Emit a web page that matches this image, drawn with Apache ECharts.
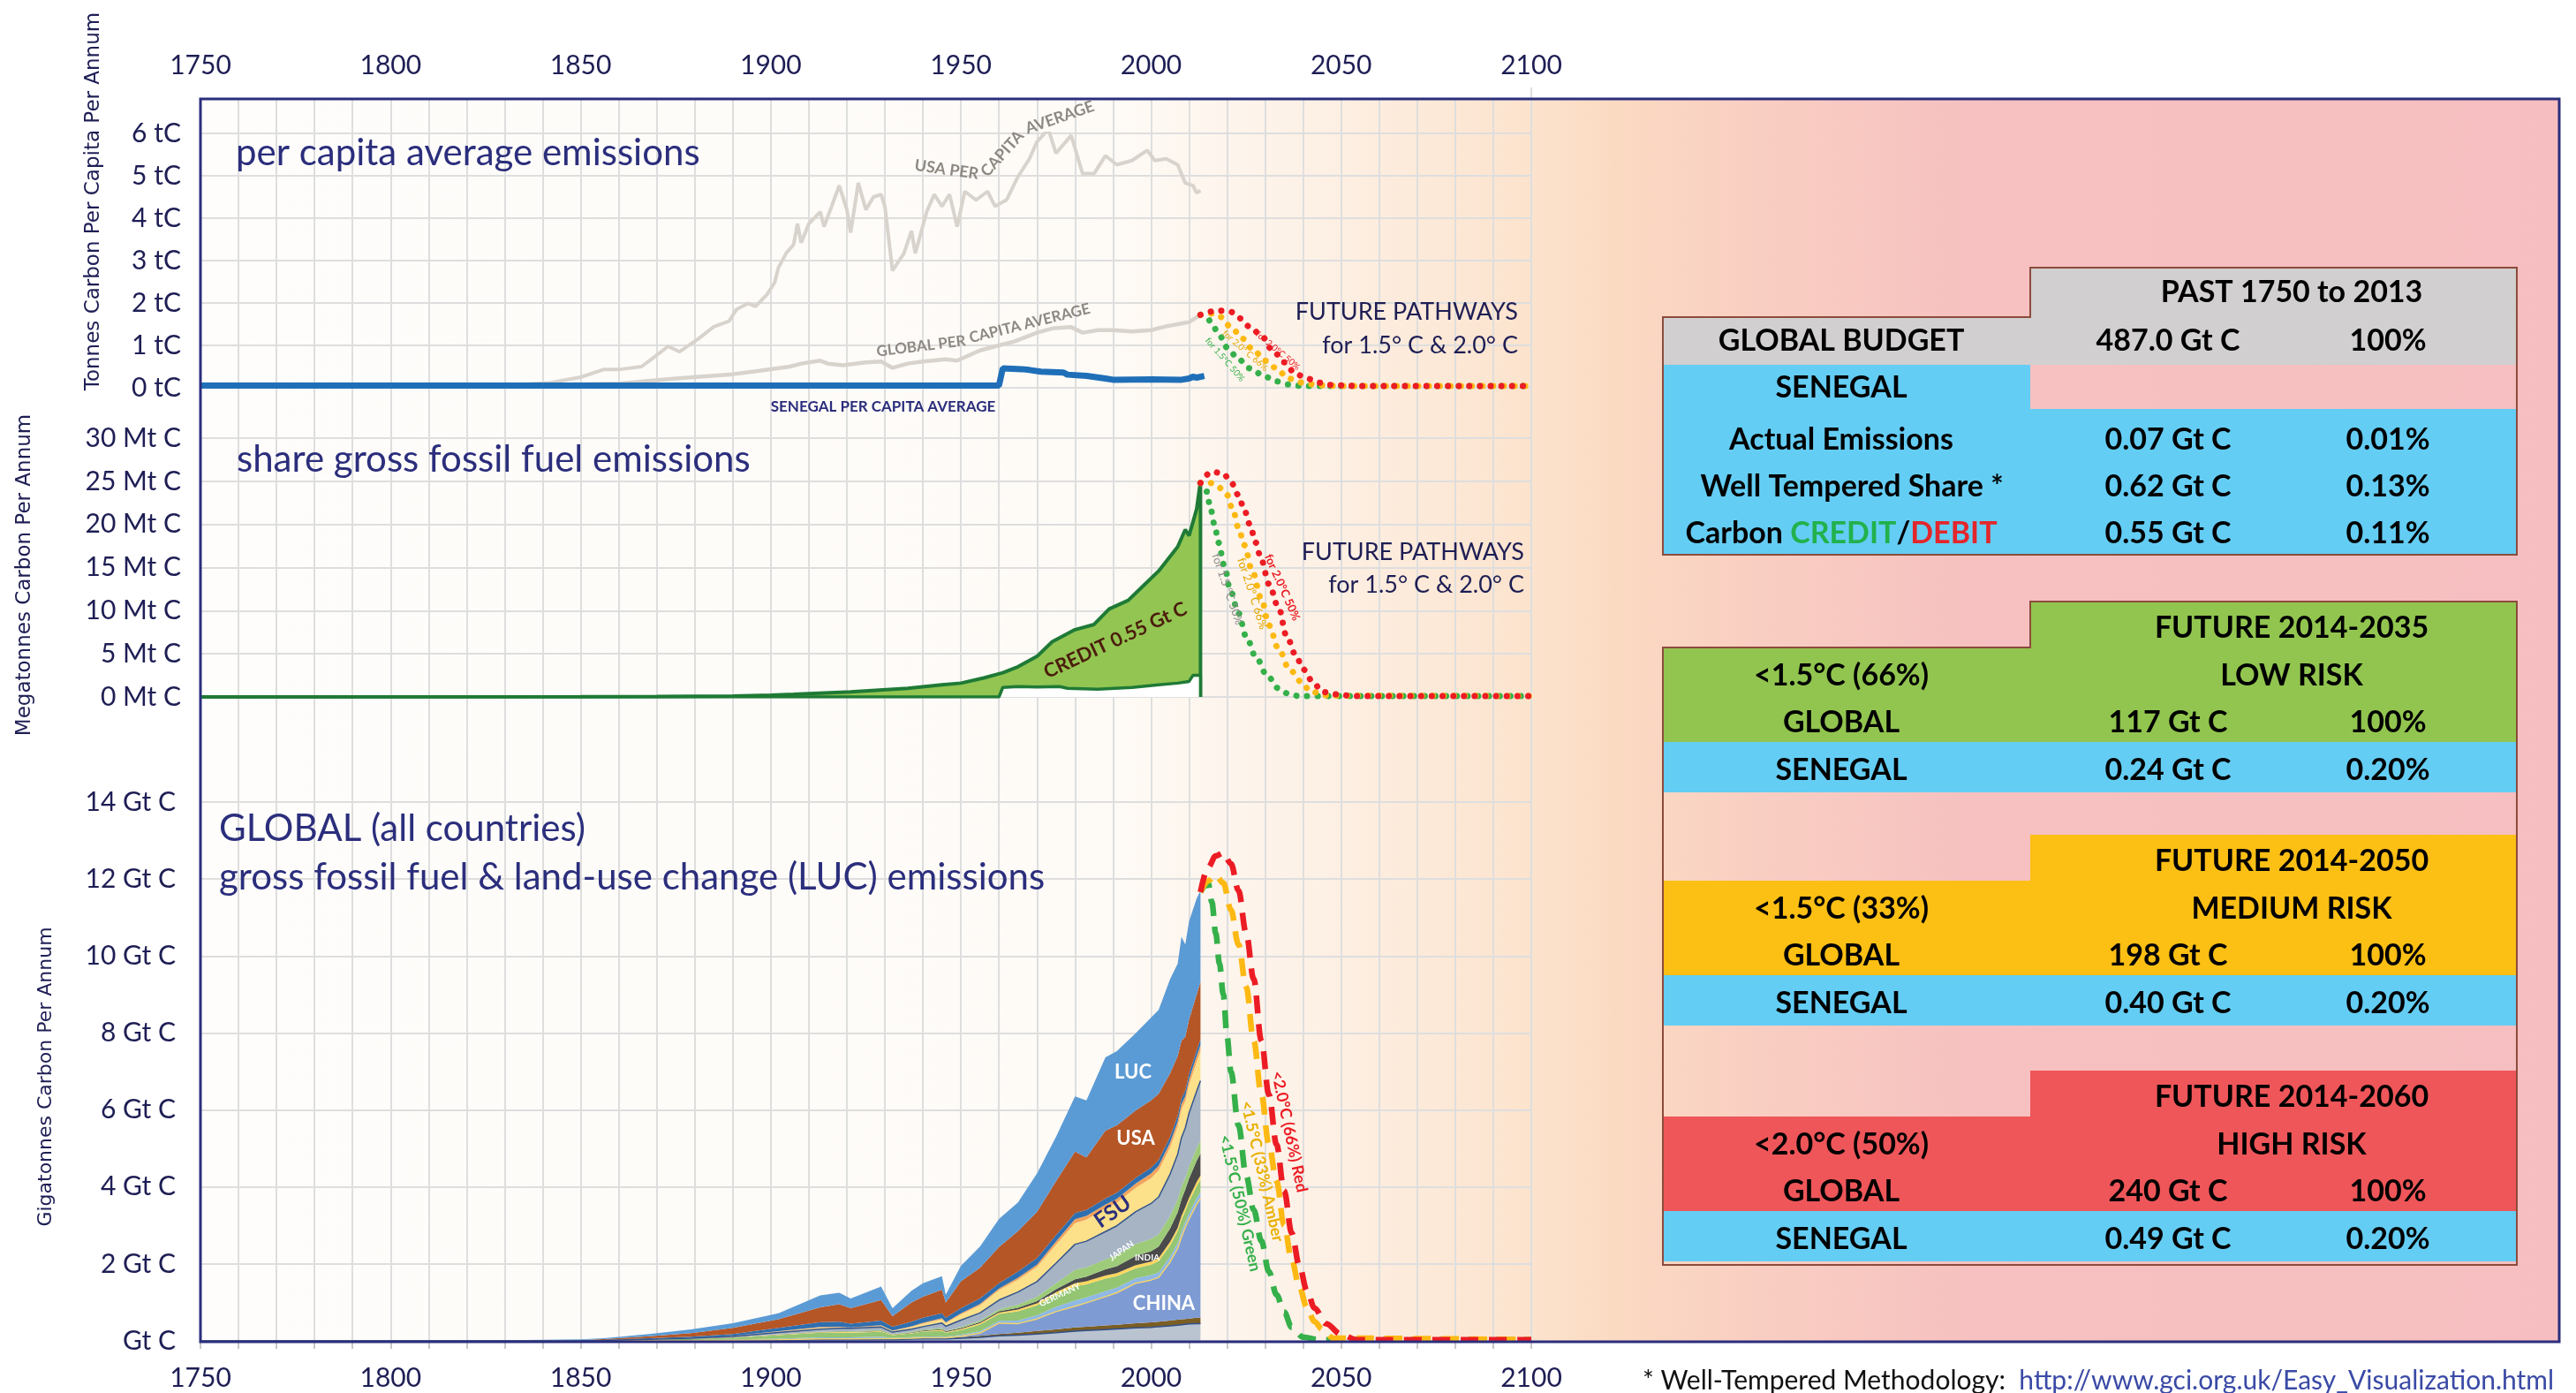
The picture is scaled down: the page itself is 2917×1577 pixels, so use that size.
<!DOCTYPE html>
<html>
<head>
<meta charset="utf-8">
<title>Senegal carbon budget</title>
<script src="https://cdn.jsdelivr.net/npm/echarts/dist/echarts.min.js"></script>
<style>
  html, body { margin: 0; padding: 0; background: #fff; }
  #main { width: 2917px; height: 1577px; }
</style>
</head>
<body>
<div id="main"></div>
<script>
"use strict";

// ---- x axis (years) ----
const yearLabels = [1750, 1800, 1850, 1900, 1950, 2000, 2050, 2100];

// ---- panel 1: tonnes carbon per capita ----
const usaPcYears = [1800, 1830, 1842, 1850, 1856, 1860, 1866, 1869, 1873, 1876, 1881, 1885, 1889, 1891, 1894, 1896, 1899, 1901, 1902, 1904, 1906, 1907, 1908, 1910, 1913, 1914, 1916, 1918, 1920, 1921, 1923, 1925, 1927, 1929, 1930, 1932, 1935, 1937, 1938, 1941, 1943, 1945, 1947, 1949, 1951, 1954, 1957, 1959, 1962, 1965, 1968, 1970, 1973, 1975, 1979, 1982, 1985, 1988, 1991, 1995, 1999, 2001, 2004, 2007, 2009, 2011, 2012, 2013];
const usaPcValues = [0.02, 0.05, 0.12, 0.25, 0.43, 0.43, 0.5, 0.7, 0.98, 0.85, 1.16, 1.44, 1.57, 1.85, 1.99, 1.92, 2.2, 2.48, 2.83, 3.17, 3.38, 3.87, 3.42, 3.87, 4.15, 3.8, 4.28, 4.77, 4.2, 3.66, 4.83, 4.2, 4.5, 4.56, 4.28, 2.76, 3.17, 3.7, 3.17, 4.15, 4.56, 4.28, 4.56, 3.8, 4.63, 4.43, 4.63, 4.28, 4.43, 4.98, 5.4, 5.8, 6.1, 5.53, 5.95, 5.05, 5.05, 5.47, 5.26, 5.36, 5.6, 5.36, 5.4, 5.26, 4.83, 4.77, 4.6, 4.65];
const globalPcYears = [1750, 1800, 1835, 1860, 1875, 1890, 1897, 1905, 1908, 1913, 1915, 1919, 1925, 1929, 1932, 1936, 1940, 1946, 1949, 1955, 1960, 1964, 1970, 1974, 1979, 1982, 1986, 1990, 1995, 2000, 2004, 2007, 2010, 2013];
const globalPcValues = [0.03, 0.04, 0.05, 0.1, 0.22, 0.32, 0.4, 0.5, 0.57, 0.64, 0.57, 0.53, 0.6, 0.62, 0.47, 0.57, 0.62, 0.67, 0.64, 0.88, 1.0, 1.09, 1.3, 1.4, 1.43, 1.3, 1.36, 1.36, 1.33, 1.36, 1.45, 1.5, 1.55, 1.72];
const senegalPcYears = [1750, 1960, 1961, 1966, 1968, 1971, 1977, 1978, 1983, 1988, 1990, 2000, 2008, 2010, 2011, 2012, 2014];
const senegalPcValues = [0.05, 0.05, 0.46, 0.44, 0.42, 0.38, 0.36, 0.31, 0.28, 0.22, 0.19, 0.2, 0.19, 0.22, 0.26, 0.24, 0.28];
const pcRedYears = [2013, 2016, 2019, 2021, 2023, 2026, 2029, 2032, 2035, 2038, 2041, 2044, 2048, 2055, 2100];
const pcRedValues = [1.72, 1.8, 1.82, 1.79, 1.65, 1.44, 1.23, 0.88, 0.6, 0.33, 0.22, 0.12, 0.06, 0.04, 0.04];
const pcAmberYears = [2013, 2016, 2018, 2021, 2024, 2027, 2030, 2033, 2036, 2040, 2044, 2050, 2100];
const pcAmberValues = [1.72, 1.75, 1.68, 1.44, 1.16, 0.88, 0.64, 0.46, 0.22, 0.12, 0.06, 0.04, 0.04];
const pcGreenYears = [2013, 2015, 2016, 2018, 2020, 2023, 2026, 2030, 2033, 2036, 2040, 2100];
const pcGreenValues = [1.72, 1.62, 1.5, 1.23, 0.95, 0.67, 0.46, 0.26, 0.15, 0.08, 0.04, 0.04];

// ---- panel 2: megatonnes carbon, Senegal share ----
const shareYears = [1750, 1850, 1870, 1890, 1900, 1906, 1921, 1936, 1945, 1950, 1956, 1961, 1965, 1970, 1974, 1980, 1985, 1989, 1994, 1998, 2002, 2007, 2009, 2010, 2012, 2013, 2013];
const shareValues = [0, 0.02, 0.05, 0.1, 0.2, 0.3, 0.6, 1.0, 1.4, 1.6, 2.2, 2.8, 3.5, 4.7, 6.4, 7.8, 8.4, 10.2, 11.2, 12.9, 14.6, 17.4, 19.4, 18.7, 21.8, 25.0, 0];
const actualYears = [1750, 1960, 1961, 1965, 1970, 1976, 1978, 1986, 1995, 2002, 2007, 2010, 2011, 2013, 2013];
const actualValues = [0, 0, 1.1, 1.2, 1.15, 1.2, 1.0, 0.9, 1.1, 1.4, 1.6, 1.8, 2.5, 2.5, 0];
const mtRedYears = [2013, 2016, 2019, 2021, 2023, 2024.5, 2026, 2027.5, 2029, 2031, 2033.5, 2035.7, 2038, 2040, 2042.5, 2045, 2048, 2054, 2100];
const mtRedValues = [24.8, 26.1, 25.9, 24.9, 23.4, 21.7, 20, 17.9, 15.9, 13.1, 10.4, 7.0, 4.9, 3.2, 1.8, 0.6, 0.3, 0.1, 0.1];
const mtAmberYears = [2013, 2015, 2017.5, 2020, 2021.5, 2023, 2024.5, 2026.7, 2029, 2031, 2033.5, 2036.4, 2039.4, 2042, 2047, 2100];
const mtAmberValues = [24.8, 24.9, 24.4, 23.4, 21.7, 19.6, 17.6, 14.5, 11.4, 8.3, 5.6, 3.2, 1.8, 0.6, 0.15, 0.1];
const mtGreenYears = [2013, 2014.7, 2015.5, 2016.7, 2017.7, 2019.3, 2020.8, 2023, 2025, 2027.6, 2030.5, 2033.5, 2036.4, 2039, 2100];
const mtGreenValues = [24.8, 23.8, 22.1, 20, 17.9, 15.2, 12.4, 9.7, 7.0, 4.6, 2.5, 1.0, 0.3, 0.1, 0.1];

// ---- panel 3: gigatonnes carbon, global stack (bottom to top) ----
const globalYears = [1750, 1800, 1830, 1850, 1856, 1868, 1879, 1890, 1902, 1913, 1918, 1921, 1929, 1932, 1937, 1940, 1945, 1946, 1950, 1955, 1960, 1965, 1970, 1975, 1980, 1983, 1988, 1991, 1996, 2000, 2002, 2005, 2007, 2008, 2009, 2010, 2012, 2013];
const bottomOther = [0, 0, 0, 0.001, 0.003, 0.006, 0.009, 0.013, 0.018, 0.028, 0.028, 0.028, 0.035, 0.037, 0.045, 0.052, 0.05, 0.05, 0.07, 0.09, 0.13, 0.15, 0.18, 0.21, 0.25, 0.27, 0.29, 0.31, 0.34, 0.35, 0.37, 0.39, 0.41, 0.42, 0.43, 0.44, 0.45, 0.45];
const canada = [0, 0, 0, 0.001, 0.001, 0.002, 0.003, 0.005, 0.007, 0.012, 0.012, 0.012, 0.015, 0.013, 0.015, 0.018, 0.02, 0.02, 0.03, 0.04, 0.05, 0.06, 0.08, 0.09, 0.1, 0.1, 0.11, 0.11, 0.12, 0.13, 0.13, 0.14, 0.14, 0.14, 0.14, 0.14, 0.15, 0.15];
const china = [0, 0, 0, 0, 0, 0, 0, 0.002, 0.005, 0.01, 0.01, 0.01, 0.01, 0.01, 0.01, 0.01, 0.01, 0.01, 0.02, 0.07, 0.28, 0.24, 0.31, 0.46, 0.55, 0.62, 0.75, 0.83, 1.04, 1.1, 1.15, 1.52, 1.85, 2.14, 2.38, 2.59, 2.95, 3.1];
const france = [0, 0, 0.001, 0.002, 0.003, 0.008, 0.012, 0.018, 0.03, 0.04, 0.04, 0.04, 0.048, 0.023, 0.025, 0.029, 0.04, 0.03, 0.04, 0.055, 0.06, 0.08, 0.095, 0.125, 0.15, 0.14, 0.14, 0.13, 0.13, 0.13, 0.13, 0.14, 0.15, 0.15, 0.14, 0.15, 0.16, 0.17];
const germany = [0, 0.001, 0.001, 0.003, 0.005, 0.015, 0.025, 0.045, 0.09, 0.12, 0.125, 0.125, 0.13, 0.065, 0.1, 0.13, 0.14, 0.1, 0.12, 0.17, 0.18, 0.24, 0.26, 0.32, 0.37, 0.34, 0.33, 0.3, 0.26, 0.27, 0.29, 0.29, 0.3, 0.3, 0.28, 0.3, 0.31, 0.32];
const yellowBand = [0, 0, 0, 0, 0, 0.002, 0.003, 0.005, 0.01, 0.014, 0.015, 0.013, 0.015, 0.01, 0.013, 0.015, 0.025, 0.02, 0.03, 0.035, 0.035, 0.045, 0.05, 0.06, 0.08, 0.08, 0.08, 0.08, 0.08, 0.08, 0.08, 0.09, 0.09, 0.1, 0.1, 0.1, 0.11, 0.11];
const india = [0, 0, 0, 0, 0, 0, 0.001, 0.002, 0.005, 0.008, 0.01, 0.01, 0.012, 0.01, 0.012, 0.014, 0.02, 0.02, 0.025, 0.03, 0.035, 0.045, 0.055, 0.075, 0.1, 0.12, 0.16, 0.18, 0.24, 0.27, 0.3, 0.35, 0.4, 0.43, 0.46, 0.5, 0.55, 0.57];
const japan = [0, 0, 0, 0, 0, 0, 0.001, 0.002, 0.005, 0.008, 0.01, 0.012, 0.015, 0.01, 0.017, 0.022, 0.03, 0.01, 0.025, 0.035, 0.05, 0.08, 0.12, 0.16, 0.25, 0.24, 0.26, 0.29, 0.31, 0.32, 0.32, 0.33, 0.33, 0.33, 0.3, 0.32, 0.33, 0.34];
const misc = [0, 0, 0, 0.001, 0.002, 0.008, 0.014, 0.025, 0.05, 0.065, 0.075, 0.075, 0.08, 0.05, 0.065, 0.08, 0.13, 0.12, 0.18, 0.2, 0.24, 0.33, 0.39, 0.52, 0.66, 0.68, 0.72, 0.76, 0.84, 0.92, 0.97, 1.08, 1.18, 1.27, 1.3, 1.38, 1.48, 1.55];
const fsu = [0, 0, 0, 0, 0.001, 0.002, 0.004, 0.008, 0.02, 0.04, 0.03, 0.01, 0.03, 0.03, 0.06, 0.08, 0.1, 0.08, 0.15, 0.2, 0.26, 0.32, 0.38, 0.48, 0.55, 0.56, 0.6, 0.6, 0.62, 0.66, 0.69, 0.7, 0.72, 0.74, 0.7, 0.74, 0.76, 0.77];
const orangeBand = [0, 0, 0, 0, 0, 0.002, 0.003, 0.005, 0.01, 0.015, 0.015, 0.015, 0.02, 0.012, 0.018, 0.02, 0.025, 0.02, 0.03, 0.035, 0.04, 0.05, 0.06, 0.08, 0.1, 0.1, 0.1, 0.1, 0.11, 0.12, 0.12, 0.12, 0.13, 0.13, 0.13, 0.14, 0.15, 0.15];
const ukBlue = [0, 0.002, 0.004, 0.007, 0.01, 0.025, 0.035, 0.05, 0.09, 0.13, 0.13, 0.1, 0.12, 0.1, 0.12, 0.13, 0.13, 0.12, 0.13, 0.14, 0.14, 0.16, 0.17, 0.17, 0.16, 0.15, 0.16, 0.16, 0.15, 0.15, 0.15, 0.15, 0.15, 0.15, 0.14, 0.15, 0.15, 0.15];
const usa = [0, 0.002, 0.004, 0.01, 0.02, 0.05, 0.09, 0.16, 0.22, 0.38, 0.45, 0.4, 0.53, 0.27, 0.5, 0.55, 0.61, 0.4, 0.7, 0.8, 0.94, 1.05, 1.2, 1.4, 1.6, 1.37, 1.76, 1.75, 1.75, 1.75, 1.72, 1.65, 1.55, 1.5, 1.4, 1.4, 1.45, 1.5];
const luc = [0, 0.005, 0.01, 0.015, 0.025, 0.06, 0.1, 0.12, 0.16, 0.31, 0.3, 0.25, 0.35, 0.21, 0.3, 0.35, 0.35, 0.2, 0.4, 0.55, 0.73, 0.75, 1.0, 1.15, 1.43, 1.48, 1.91, 1.93, 2.01, 2.15, 2.18, 2.45, 2.4, 2.7, 2.4, 2.55, 2.5, 2.37];
const gtRedYears = [2013, 2015, 2017, 2019, 2021, 2023, 2025, 2027, 2029, 2031, 2033, 2035, 2037, 2039, 2041, 2043, 2046, 2050, 2054, 2100];
const gtRedValues = [11.66, 12.3, 12.6, 12.68, 12.4, 11.7, 10.6, 9.4, 7.8, 6.4, 5.1, 3.9, 2.8, 1.95, 1.3, 0.85, 0.45, 0.17, 0.03, 0.03];
const gtAmberYears = [2013, 2015, 2017, 2019, 2021, 2023, 2025, 2027, 2029, 2031, 2033, 2035, 2037, 2039, 2041, 2043, 2045, 2048, 2100];
const gtAmberValues = [11.66, 11.95, 12.1, 11.9, 11.2, 10.3, 9.2, 7.8, 6.4, 5.1, 4.15, 3.0, 2.1, 1.4, 0.86, 0.5, 0.3, 0.07, 0.03];
const gtGreenYears = [2013, 2015, 2016, 2017, 2018, 2019, 2020, 2021, 2023, 2025, 2027, 2029, 2031, 2033, 2035, 2037, 2040, 2044, 2100];
const gtGreenValues = [11.66, 11.9, 11.4, 10.6, 9.8, 9.0, 7.9, 7.0, 5.6, 4.3, 3.4, 2.6, 1.8, 1.2, 0.75, 0.35, 0.1, 0.03, 0.03];

// ---- budget table text ----
const pastHeader = "PAST 1750 to 2013";
const pastGlobal = ["GLOBAL BUDGET", "487.0 Gt C", "100%"];
const pastRows = [
  ["Actual Emissions", "0.07 Gt C", "0.01%"],
  ["Well Tempered Share *", "0.62 Gt C", "0.13%"],
  ["", "0.55 Gt C", "0.11%"]
];
const futureBlocks = [
  { header: "FUTURE 2014-2035", level: "<1.5°C (66%)", risk: "LOW RISK", global: "117 Gt C", senegal: "0.24 Gt C", pct: "0.20%", color: "#92c54f", top: 681 },
  { header: "FUTURE 2014-2050", level: "<1.5°C (33%)", risk: "MEDIUM RISK", global: "198 Gt C", senegal: "0.40 Gt C", pct: "0.20%", color: "#fcbf14", top: 945 },
  { header: "FUTURE 2014-2060", level: "<2.0°C (50%)", risk: "HIGH RISK", global: "240 Gt C", senegal: "0.49 Gt C", pct: "0.20%", color: "#ef5659", top: 1212 }
];

const NAVY = "#2b2e7c";
const INK = "#1e1e55";
const GRIDC = "#dedede";
const RED = "#ec1c24";
const AMBER = "#fdb913";
const GREEN = "#35b04a";
const SMALL = "Lato, sans-serif";

// the global panel sits on a time axis so that stacking runs on the y values
const YEAR_MS = 365.2425 * 86400000;
function yt(y) { return Date.UTC(1750, 0, 1) + (y - 1750) * YEAR_MS; }

function pairs(xs, ys) {
  return xs.map(function (x, i) { return [x, ys[i]]; });
}
function timePairs(xs, ys) {
  return xs.map(function (x, i) { return [yt(x), ys[i]]; });
}

function txt(text, x, y, font, fill, align, rot) {
  return {
    type: "text", x: x, y: y, z: 20, silent: true,
    rotation: (rot || 0) * Math.PI / 180,
    style: {
      text: text, font: font, fill: fill,
      textAlign: align || "left", align: align || "left",
      textVerticalAlign: "middle", verticalAlign: "middle"
    }
  };
}

function box(x, y, w, h, fill) {
  return { type: "rect", z: 15, silent: true, shape: { x: x, y: y, width: w, height: h }, style: { fill: fill } };
}

function outline(points) {
  return { type: "polygon", z: 16, silent: true, shape: { points: points }, style: { fill: "none", stroke: "#8c4b3c", lineWidth: 2 } };
}

var measureCtx = document.createElement("canvas").getContext("2d");
function textWidth(s, font) {
  measureCtx.font = font;
  return measureCtx.measureText(s).width;
}

function dotted(name, xs, ys, color, idx) {
  return {
    name: name, type: "line", xAxisIndex: idx, yAxisIndex: idx, z: 4,
    data: pairs(xs, ys), symbol: "none", smooth: 0.35, smoothMonotone: "x",
    lineStyle: { color: color, width: 7, type: [0.1, 12], cap: "round" }
  };
}

function dashed(name, xs, ys, color) {
  return {
    name: name, type: "line", xAxisIndex: 2, yAxisIndex: 2, z: 5,
    data: timePairs(xs, ys), symbol: "none", smooth: 0.35, smoothMonotone: "x",
    lineStyle: { color: color, width: 6.5, type: [20, 12] }
  };
}

function band(name, values, color, edge) {
  return {
    name: name, type: "line", xAxisIndex: 2, yAxisIndex: 2, stack: "global", z: 2,
    data: timePairs(globalYears, values), symbol: "none",
    lineStyle: edge ? { width: 1.5, color: edge } : { width: 0 },
    areaStyle: { color: color, opacity: 1 }
  };
}

function panelY(min, max, interval, unit, margin) {
  return {
    type: "value", min: min, max: max, interval: interval,
    axisLine: { show: false }, axisTick: { show: false },
    splitLine: { show: true, lineStyle: { color: GRIDC, width: 2 } },
    axisLabel: {
      margin: margin, color: INK, fontFamily: "Lato", fontSize: 30,
      showMinLabel: true, showMaxLabel: true,
      formatter: function (v) { return v === 0 && unit === "Gt C" ? "Gt C" : v + " " + unit; }
    }
  };
}

function hiddenX() {
  return { type: "value", min: 1750, max: 2100, show: false, splitLine: { show: false } };
}

var yearFmt = function (v) { return yearLabels.indexOf(v) >= 0 ? String(v) : ""; };

var chartDom = document.getElementById("main");
var myChart = echarts.init(chartDom, null, { renderer: "canvas", width: 2917, height: 1577 });

// ---- decorations: background, border, titles, notes ----
var graphics = [
  {
    type: "rect", z: -5, silent: true,
    shape: { x: 227, y: 112, width: 2671, height: 1407 },
    style: {
      fill: new echarts.graphic.LinearGradient(0, 0, 1, 0, [
        { offset: 0, color: "#fefdfb" },
        { offset: 0.38, color: "#fefbf7" },
        { offset: 0.47, color: "#fdf1e6" },
        { offset: 0.564, color: "#fce3cd" },
        { offset: 0.6, color: "#fbdac2" },
        { offset: 0.66, color: "#f9cec2" },
        { offset: 0.75, color: "#f6c1c0" },
        { offset: 1, color: "#f6bec0" }
      ])
    }
  },
  { type: "rect", z: 12, silent: true, shape: { x: 227, y: 112, width: 2671, height: 1407 }, style: { fill: "none", stroke: NAVY, lineWidth: 3 } },
  { type: "line", z: 11, silent: true, shape: { x1: 1734, y1: 99, x2: 1734, y2: 112 }, style: { stroke: GRIDC, lineWidth: 2 } },

  txt("Tonnes Carbon Per Capita Per Annum", 106, 228, "23px 'DejaVu Sans'", INK, "center", 90),
  txt("Megatonnes Carbon Per Annum", 28, 651, "23px 'DejaVu Sans'", INK, "center", 90),
  txt("Gigatonnes Carbon Per Annum", 52, 1219, "22px 'DejaVu Sans'", INK, "center", 90),

  txt("per capita average emissions", 267, 173, "42px Lato", NAVY),
  txt("share gross fossil fuel emissions", 268, 520, "42px Lato", NAVY),
  txt("GLOBAL (all countries)", 248, 938, "42px Lato", NAVY),
  txt("gross fossil fuel & land-use change (LUC) emissions", 248, 993, "42px Lato", NAVY),

  txt("FUTURE PATHWAYS", 1719, 353, "27px Lato", INK, "right"),
  txt("for 1.5° C & 2.0° C", 1719, 391, "27px Lato", INK, "right"),
  txt("FUTURE PATHWAYS", 1726, 625, "27px Lato", INK, "right"),
  txt("for 1.5° C & 2.0° C", 1726, 662, "27px Lato", INK, "right"),

  txt("USA PER", 1072, 192, "bold 18px " + SMALL, "#8d8882", "center", -8),
  txt("CAPITA", 1135, 174, "bold 18px " + SMALL, "#8d8882", "center", 48),
  txt("AVERAGE", 1200, 133, "bold 18px " + SMALL, "#8d8882", "center", 19),
  txt("GLOBAL PER", 1043, 392, "bold 17px " + SMALL, "#8d8882", "center", 7),
  txt("CAPITA AVERAGE", 1166, 366, "bold 17px " + SMALL, "#8d8882", "center", 14),
  txt("SENEGAL PER CAPITA AVERAGE", 1000, 461, "bold 17px " + SMALL, NAVY, "center"),

  txt("for 1.5°C 50%", 1387, 407, "10px Lato", GREEN, "center", -49),
  txt("for 2.0° C 66%", 1410, 397, "10px Lato", "#e3a800", "center", -41),
  txt("for 2.0°C 50%", 1447, 397, "10px Lato", RED, "center", -40),

  txt("CREDIT 0.55 Gt C", 1263, 725, "bold 22px Lato", "#4b1c0c", "center", 25),
  txt("for 1.5 °C 50%", 1390, 667, "13px Lato", "#8a8a8a", "center", -71),
  txt("for 2.0° C 66%", 1418, 672, "13px Lato", "#e3a800", "center", -72),
  txt("for 2.0°C 50%", 1452, 665, "bold 13px Lato", RED, "center", -66),

  txt("LUC", 1283, 1214, "bold 22px Lato", "#ffffff", "center"),
  txt("USA", 1286, 1289, "bold 22px Lato", "#ffffff", "center"),
  txt("FSU", 1260, 1372, "bold 24px Lato", NAVY, "center", 35),
  txt("JAPAN", 1270, 1416, "bold 10px Lato", "#ffffff", "center", 35),
  txt("INDIA", 1299, 1424, "bold 10px Lato", "#ffffff", "center"),
  txt("GERMANY", 1200, 1466, "bold 10px Lato", "#ffffff", "center", 25),
  txt("CHINA", 1318, 1476, "bold 22px Lato", "#ffffff", "center"),

  txt("<2.0°C (66%) Red", 1460, 1281, "bold 18px Lato", RED, "center", -78),
  txt("<1.5°C (33%) Amber", 1429, 1326, "bold 18px Lato", "#e9b000", "center", -77),
  txt("<1.5°C (50%) Green", 1404, 1362, "bold 18px Lato", GREEN, "center", -77)
];

// footer note
var footFont = "30px Lato";
var footA = "* Well-Tempered Methodology:  ";
graphics.push(txt(footA, 1860, 1563, footFont, "#111111"));
graphics.push(txt("http://www.gci.org.uk/Easy_Visualization.html", 1860 + textWidth(footA, footFont), 1563, footFont, "#3a4aa6"));

// ---- budget tables ----
var cLabel = 2085, cValue = 2455, cPct = 2704, cHead = 2595;
var tFont = "bold 34px Lato";
var GREY = "#d1cfcf", SKY = "#64cdf4";

graphics.push(box(2299, 303, 551, 56, GREY));
graphics.push(box(1883, 359, 967, 54, GREY));
graphics.push(box(1883, 413, 416, 50, SKY));
graphics.push(box(1883, 463, 967, 165, SKY));
graphics.push(outline([[1883, 359], [2299, 359], [2299, 303], [2850, 303], [2850, 628], [1883, 628]]));
graphics.push(txt(pastHeader, cHead, 331, tFont, "#000", "center"));
graphics.push(txt(pastGlobal[0], cLabel, 386, tFont, "#000", "center"));
graphics.push(txt(pastGlobal[1], cValue, 386, tFont, "#000", "center"));
graphics.push(txt(pastGlobal[2], cPct, 386, tFont, "#000", "center"));
graphics.push(txt("SENEGAL", cLabel, 439, tFont, "#000", "center"));
pastRows.forEach(function (r, i) {
  var y = 498 + i * 53;
  if (r[0]) graphics.push(txt(r[0], cLabel + (i === 1 ? 12 : 0), y, tFont, "#000", "center"));
  graphics.push(txt(r[1], cValue, y, tFont, "#000", "center"));
  graphics.push(txt(r[2], cPct, y, tFont, "#000", "center"));
});
// "Carbon CREDIT/DEBIT" in three colours
(function () {
  var parts = [["Carbon ", "#000"], ["CREDIT", "#22b14c"], ["/", "#000"], ["DEBIT", "#e3262b"]];
  var total = parts.reduce(function (s, p) { return s + textWidth(p[0], tFont); }, 0);
  var x = cLabel - total / 2;
  parts.forEach(function (p) {
    graphics.push(txt(p[0], x, 604, tFont, p[1], "left"));
    x += textWidth(p[0], tFont);
  });
})();

futureBlocks.forEach(function (b) {
  var t = b.top;
  graphics.push(box(2299, t, 551, 53, b.color));
  graphics.push(box(1883, t + 52, 967, 108, b.color));
  graphics.push(box(1883, t + 159, 967, 57, SKY));
  graphics.push(txt(b.header, cHead, t + 30, tFont, "#000", "center"));
  graphics.push(txt(b.level, cLabel, t + 84, tFont, "#000", "center"));
  graphics.push(txt(b.risk, cHead, t + 84, tFont, "#000", "center"));
  graphics.push(txt("GLOBAL", cLabel, t + 137, tFont, "#000", "center"));
  graphics.push(txt(b.global, cValue, t + 137, tFont, "#000", "center"));
  graphics.push(txt("100%", cPct, t + 137, tFont, "#000", "center"));
  graphics.push(txt("SENEGAL", cLabel, t + 191, tFont, "#000", "center"));
  graphics.push(txt(b.senegal, cValue, t + 191, tFont, "#000", "center"));
  graphics.push(txt(b.pct, cPct, t + 191, tFont, "#000", "center"));
});
graphics.push(outline([[1883, 733], [2299, 733], [2299, 681], [2850, 681], [2850, 1432], [1883, 1432]]));

var option = {
  animation: false,
  backgroundColor: "#ffffff",
  grid: [
    { left: 227, top: 151, width: 1507, height: 288, outerBoundsMode: "none" },
    { left: 227, top: 496, width: 1507, height: 293, outerBoundsMode: "none" },
    { left: 227, top: 908, width: 1507, height: 610, outerBoundsMode: "none" },
    { left: 227, top: 112, width: 1507, height: 1407, outerBoundsMode: "none" }
  ],
  xAxis: [
    hiddenX(),
    Object.assign(hiddenX(), { gridIndex: 1 }),
    { gridIndex: 2, type: "time", min: yt(1750), max: yt(2100), show: false, splitLine: { show: false } },
    {
      gridIndex: 3, type: "value", position: "bottom", min: 1750, max: 2100, interval: 10,
      axisLine: { show: false },
      axisTick: { show: true, length: 8, lineStyle: { color: "#c8c8c8", width: 2 } },
      splitLine: { show: true, lineStyle: { color: GRIDC, width: 2 } },
      axisLabel: { margin: 26, color: INK, fontFamily: "Lato", fontSize: 30, formatter: yearFmt, showMinLabel: true, showMaxLabel: true }
    },
    {
      gridIndex: 3, type: "value", position: "top", min: 1750, max: 2100, interval: 10,
      axisLine: { show: false }, axisTick: { show: false }, splitLine: { show: false },
      axisLabel: { margin: 23, color: INK, fontFamily: "Lato", fontSize: 30, formatter: yearFmt, showMinLabel: true, showMaxLabel: true }
    }
  ],
  yAxis: [
    Object.assign(panelY(0, 6, 1, "tC", 22), { gridIndex: 0 }),
    Object.assign(panelY(0, 30, 5, "Mt C", 22), { gridIndex: 1 }),
    Object.assign(panelY(0, 14, 2, "Gt C", 28), { gridIndex: 2 }),
    { gridIndex: 3, type: "value", show: false, min: 0, max: 1, splitLine: { show: false } }
  ],
  graphic: graphics,
  series: [
    // panel 1
    { name: "USA per capita", type: "line", xAxisIndex: 0, yAxisIndex: 0, z: 2, data: pairs(usaPcYears, usaPcValues), symbol: "none", lineStyle: { color: "#d8d3cc", width: 4 } },
    { name: "Global per capita", type: "line", xAxisIndex: 0, yAxisIndex: 0, z: 2, data: pairs(globalPcYears, globalPcValues), symbol: "none", lineStyle: { color: "#d8d3cc", width: 4.5 } },
    { name: "Senegal per capita", type: "line", xAxisIndex: 0, yAxisIndex: 0, z: 3, data: pairs(senegalPcYears, senegalPcValues), symbol: "none", lineStyle: { color: "#1f6fb8", width: 7 } },
    dotted("pc green", pcGreenYears, pcGreenValues, GREEN, 0),
    dotted("pc amber", pcAmberYears, pcAmberValues, AMBER, 0),
    dotted("pc red", pcRedYears, pcRedValues, RED, 0),

    // panel 2
    { name: "Well tempered share", type: "line", xAxisIndex: 1, yAxisIndex: 1, z: 2, data: pairs(shareYears, shareValues), symbol: "none", lineStyle: { color: "#1f7a36", width: 4 }, areaStyle: { color: "#92c551", opacity: 1 } },
    { name: "Actual emissions", type: "line", xAxisIndex: 1, yAxisIndex: 1, z: 3, data: pairs(actualYears, actualValues), symbol: "none", lineStyle: { color: "#1f7a36", width: 3.5 }, areaStyle: { color: "#ffffff", opacity: 1 } },
    dotted("mt green", mtGreenYears, mtGreenValues, GREEN, 1),
    dotted("mt amber", mtAmberYears, mtAmberValues, AMBER, 1),
    dotted("mt red", mtRedYears, mtRedValues, RED, 1),

    // panel 3
    band("Other", bottomOther, "#bac4d0", "#2f4f8a"),
    band("Canada", canada, "#7b5e24"),
    band("China", china, "#7f9bd3", "#f2d36b"),
    band("France", france, "#8fb8e6"),
    band("Germany", germany, "#93c572"),
    band("Yellow", yellowBand, "#ffd65c"),
    band("India", india, "#4a4a4a"),
    band("Japan", japan, "#9dcb7a"),
    band("Rest", misc, "#a6b4c4", "#34558b"),
    band("FSU", fsu, "#fde08a"),
    band("Orange", orangeBand, "#f3a35b"),
    band("UK", ukBlue, "#2f6fb0"),
    band("USA", usa, "#b55626"),
    band("LUC", luc, "#5b9bd5"),
    dashed("gt green", gtGreenYears, gtGreenValues, GREEN),
    dashed("gt amber", gtAmberYears, gtAmberValues, AMBER),
    dashed("gt red", gtRedYears, gtRedValues, RED)
  ]
};

option && myChart.setOption(option);
</script>
</body>
</html>
